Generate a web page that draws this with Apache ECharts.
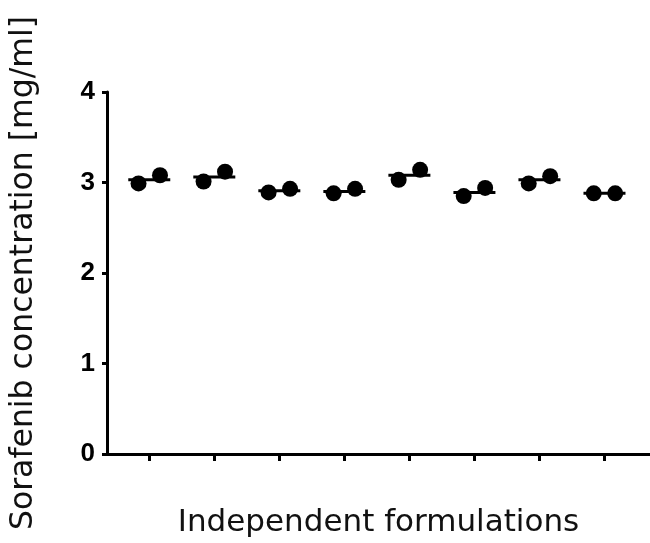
<!DOCTYPE html>
<html>
<head>
<meta charset="utf-8">
<script src="https://cdn.jsdelivr.net/npm/echarts@6/dist/echarts.min.js"></script>
<style>html,body{margin:0;padding:0;background:#fff;}#c{width:650px;height:543px;}</style>
</head>
<body>
<div id="c"></div>
<script>
var formulations = [1, 2, 3, 4, 5, 6, 7, 8];
var replicateA = [2.99, 3.01, 2.89, 2.88, 3.03, 2.85, 2.99, 2.88];
var replicateB = [3.08, 3.12, 2.93, 2.93, 3.14, 2.94, 3.07, 2.88];
var means = [3.03, 3.06, 2.91, 2.90, 3.08, 2.89, 3.03, 2.88];
var yTicks = [0, 1, 2, 3, 4];

var jitter = 0.165;
var pts = [];
formulations.forEach(function (f, i) {
  pts.push([f - jitter, replicateA[i]]);
  pts.push([f + jitter, replicateB[i]]);
});
var meanPts = formulations.map(function (f, i) { return [f, means[i]]; });

var chart = echarts.init(document.getElementById('c'), null, {renderer: 'canvas'});
chart.setOption({
  animation: false,
  backgroundColor: '#fff',
  grid: {left: 104, right: 0, top: 92, bottom: 87, containLabel: false},
  xAxis: {
    type: 'value', min: 0.35, max: 8.7,
    name: 'Independent formulations', nameLocation: 'middle', nameGap: 53,
    nameTextStyle: {fontFamily: 'DejaVu Sans', fontSize: 31, color: '#111'},
    axisLine: {show: true, lineStyle: {color: '#000', width: 3}},
    axisTick: {show: true, length: 7, inside: false, customValues: formulations, lineStyle: {color: '#000', width: 3}},
    axisLabel: {show: false},
    splitLine: {show: false}
  },
  yAxis: {
    type: 'value', min: 0, max: 4, interval: 1,
    name: 'Sorafenib concentration [mg/ml]', nameLocation: 'middle', nameGap: 67,
    nameTextStyle: {fontFamily: 'DejaVu Sans', fontSize: 31.5, color: '#111'},
    axisLine: {show: true, lineStyle: {color: '#000', width: 3}},
    axisTick: {show: true, length: 5, lineStyle: {color: '#000', width: 3}},
    axisLabel: {
      show: true, margin: 12, fontFamily: 'Liberation Sans', fontWeight: 'bold', fontSize: 26, color: '#000',
      customValues: yTicks
    },
    splitLine: {show: false}
  },
  series: [
    {
      type: 'scatter', data: meanPts, symbol: 'rect', symbolSize: [42, 3],
      itemStyle: {color: '#000', opacity: 1}, z: 2, silent: true
    },
    {
      type: 'scatter', data: pts, symbol: 'circle', symbolSize: 16,
      itemStyle: {color: '#000', opacity: 1}, z: 3, silent: true
    }
  ]
});
</script>
</body>
</html>
